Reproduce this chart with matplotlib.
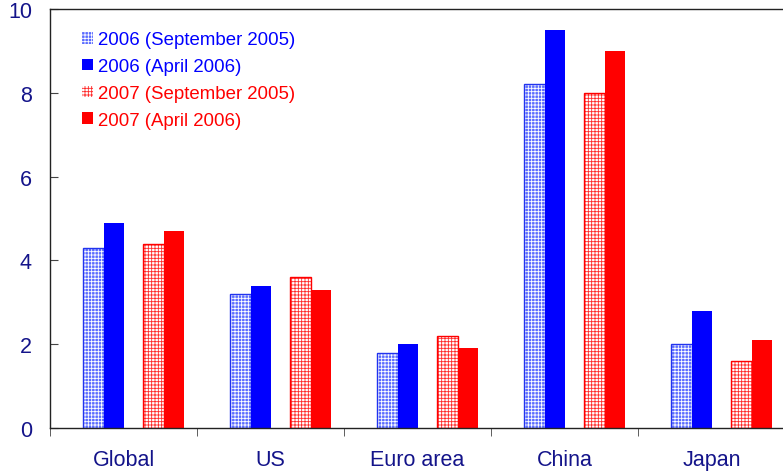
import numpy as np
import matplotlib.pyplot as plt
from matplotlib.ticker import FixedLocator
from matplotlib.patches import Patch

plt.rcParams['font.family'] = ['Liberation Sans', 'DejaVu Sans']
plt.rcParams['hatch.linewidth'] = 0.6

regions = ["Global", "US", "Euro area", "China", "Japan"]
f2006_sep05 = [4.3, 3.2, 1.8, 8.2, 2.0]
f2006_apr06 = [4.9, 3.4, 2.0, 9.5, 2.8]
f2007_sep05 = [4.4, 3.6, 2.2, 8.0, 1.6]
f2007_apr06 = [4.7, 3.3, 1.9, 9.0, 2.1]
labels = ["2006 (September 2005)", "2006 (April 2006)",
          "2007 (September 2005)", "2007 (April 2006)"]

navy = "#14148a"
blue = "#0000ff"
red = "#ff0000"
blue_pat = "#5a6bff"
red_pat = "#ff2a2a"

fig = plt.figure(figsize=(7.83, 4.77), dpi=100)
ax = fig.add_axes([0.0639, 0.1006, 0.9387, 0.8784])

x = np.arange(len(regions))
w = 0.14
lefts = [-0.276, -0.136, 0.133, 0.272]

# patterned bars: base fill, hatch overlay, then outline
ax.bar(x + lefts[0], f2006_sep05, w, align='edge', color=blue_pat, lw=0)
ax.bar(x + lefts[0], f2006_sep05, w, align='edge', facecolor='none',
       edgecolor="white", hatch="+++++", lw=0)
ax.bar(x + lefts[0], f2006_sep05, w, align='edge', facecolor='none',
       edgecolor="#2233ee", lw=1)
ax.bar(x + lefts[1], f2006_apr06, w, align='edge', color=blue, lw=0)
ax.bar(x + lefts[2], f2007_sep05, w, align='edge', color="white", lw=0)
ax.bar(x + lefts[2], f2007_sep05, w, align='edge', facecolor='none',
       edgecolor=red_pat, hatch="+++++", lw=0)
ax.bar(x + lefts[2], f2007_sep05, w, align='edge', facecolor='none',
       edgecolor=red, lw=1)
ax.bar(x + lefts[3], f2007_apr06, w, align='edge', color=red, lw=0)

handles = [
    Patch(facecolor=blue_pat, edgecolor="white", hatch="+++++", lw=0),
    Patch(facecolor=blue, lw=0),
    Patch(facecolor="white", edgecolor=red_pat, hatch="+++++", lw=0),
    Patch(facecolor=red, lw=0),
]
leg = ax.legend(handles, labels, loc='upper left', bbox_to_anchor=(0.026, 0.978),
                frameon=False, fontsize=13.4, handlelength=0.6, handleheight=0.6,
                handletextpad=0.25, labelspacing=0.53, borderaxespad=0.3)
for t, c in zip(leg.get_texts(), [blue, blue, red, red]):
    t.set_color(c)

ax.set_xlim(-0.5, 4.5)
ax.set_ylim(0, 10)
ax.set_yticks([0, 2, 4, 6, 8, 10])
ax.tick_params(axis='y', direction='in', length=6, pad=13, labelsize=15.5,
               labelcolor=navy, color="#444444")
ax.set_xticks(x)
ax.set_xticklabels(regions)
ax.xaxis.set_minor_locator(FixedLocator(np.arange(-0.5, 5, 1)))
ax.tick_params(axis='x', which='major', length=0, pad=15, labelsize=15.5,
               labelcolor=navy)
ax.tick_params(axis='x', which='minor', direction='out', length=6,
               color="#444444")
for s in ax.spines.values():
    s.set_color("#222222")
    s.set_linewidth(1)

fig.savefig("out.png", dpi=100)
